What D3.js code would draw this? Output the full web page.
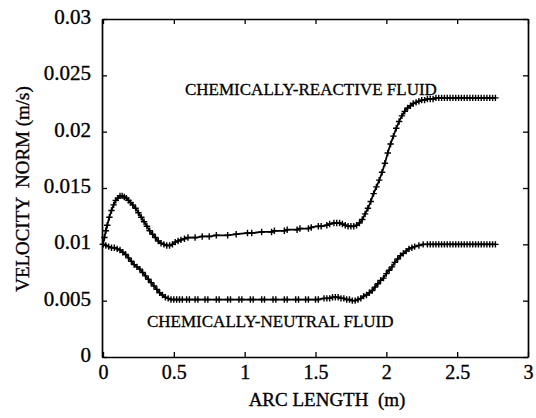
<!DOCTYPE html>
<html>
<head>
<meta charset="utf-8">
<script src="https://cdn.jsdelivr.net/npm/d3@7/dist/d3.min.js"></script>
<style>
  html, body { margin: 0; padding: 0; background: #fff; }
  svg { display: block; }
  text { font-family: "Liberation Serif", "Times New Roman", serif; fill: #000; white-space: pre; }
</style>
</head>
<body>
<svg id="chart" width="536" height="418"></svg>
<script>
// Arc length (m) and velocity norm (m/s) at the mesh nodes along the cut line
const reactiveX = [
  0.000, 0.010, 0.020, 0.030, 0.045, 0.060, 0.075, 0.090, 0.105, 0.120,
  0.135, 0.150, 0.165, 0.180, 0.195, 0.210, 0.230, 0.250, 0.270, 0.290,
  0.310, 0.330, 0.350, 0.370, 0.390, 0.410, 0.430, 0.450, 0.470, 0.490,
  0.510, 0.530, 0.550, 0.575, 0.600, 0.650, 0.700, 0.750, 0.800, 0.880,
  0.940, 1.020, 1.050, 1.120, 1.190, 1.210, 1.280, 1.300, 1.370, 1.390,
  1.450, 1.470, 1.520, 1.540, 1.580, 1.600, 1.630, 1.650, 1.670, 1.690,
  1.710, 1.730, 1.750, 1.770, 1.790, 1.810, 1.830, 1.850, 1.870, 1.890,
  1.910, 1.930, 1.950, 1.970, 1.990, 2.010, 2.030, 2.050, 2.070, 2.090,
  2.110, 2.130, 2.150, 2.170, 2.190, 2.210, 2.230, 2.250, 2.270, 2.290,
  2.310, 2.330, 2.350, 2.370, 2.390, 2.410, 2.430, 2.450, 2.470, 2.490,
  2.510, 2.530, 2.550, 2.570, 2.590, 2.610, 2.630, 2.650, 2.670, 2.690,
  2.710, 2.730, 2.750, 2.770
];
const reactiveV = [
  0.0100, 0.0106, 0.0112, 0.0117, 0.0124, 0.0130, 0.0135, 0.0139, 0.0141, 0.0143,
  0.0143, 0.0142, 0.0141, 0.0139, 0.0137, 0.0135, 0.0132, 0.0128, 0.0124, 0.0120,
  0.0116, 0.0112, 0.0109, 0.0106, 0.0103, 0.0101, 0.0100, 0.0099, 0.0099, 0.0100,
  0.0102, 0.0103, 0.0104, 0.0105, 0.0106, 0.0106, 0.0107, 0.0107, 0.0108, 0.0108,
  0.0109, 0.0110, 0.0110, 0.0111, 0.0111, 0.0112, 0.0112, 0.0113, 0.0113, 0.0114,
  0.0114, 0.0115, 0.0116, 0.0116, 0.0117, 0.0118, 0.0119, 0.0119, 0.0119, 0.0118,
  0.0117, 0.0116, 0.0116, 0.0116, 0.0117, 0.0119, 0.0122, 0.0127, 0.0132, 0.0138,
  0.0145, 0.0151, 0.0157, 0.0164, 0.0172, 0.0181, 0.0189, 0.0196, 0.0203, 0.0209,
  0.0214, 0.0218, 0.0221, 0.0223, 0.0225, 0.0226, 0.0227, 0.0228, 0.0228, 0.0229,
  0.0229, 0.0229, 0.0230, 0.0230, 0.0230, 0.0230, 0.0230, 0.0230, 0.0230, 0.0230,
  0.0230, 0.0230, 0.0230, 0.0230, 0.0230, 0.0230, 0.0230, 0.0230, 0.0230, 0.0230,
  0.0230, 0.0230, 0.0230, 0.0230
];

const neutralX = [
  0.000, 0.020, 0.040, 0.060, 0.080, 0.100, 0.120, 0.140, 0.160, 0.180,
  0.200, 0.220, 0.240, 0.260, 0.280, 0.300, 0.320, 0.340, 0.360, 0.380,
  0.400, 0.420, 0.440, 0.460, 0.480, 0.500, 0.520, 0.540, 0.560, 0.590,
  0.610, 0.650, 0.670, 0.720, 0.740, 0.800, 0.820, 0.880, 0.900, 0.960,
  0.980, 1.040, 1.060, 1.120, 1.140, 1.200, 1.220, 1.280, 1.300, 1.360,
  1.380, 1.430, 1.450, 1.500, 1.520, 1.560, 1.580, 1.600, 1.620, 1.640,
  1.660, 1.680, 1.700, 1.720, 1.740, 1.760, 1.780, 1.800, 1.820, 1.840,
  1.860, 1.880, 1.900, 1.920, 1.940, 1.960, 1.980, 2.000, 2.020, 2.040,
  2.060, 2.080, 2.100, 2.120, 2.140, 2.160, 2.180, 2.200, 2.230, 2.260,
  2.290, 2.310, 2.330, 2.350, 2.370, 2.390, 2.410, 2.430, 2.450, 2.470,
  2.490, 2.510, 2.530, 2.550, 2.570, 2.590, 2.610, 2.630, 2.650, 2.670,
  2.690, 2.710, 2.730, 2.750, 2.770
];
const neutralV = [
  0.0100, 0.0099, 0.0098, 0.0097, 0.0097, 0.0096, 0.0095, 0.0093, 0.0091, 0.0088,
  0.0085, 0.0082, 0.0080, 0.0078, 0.0075, 0.0072, 0.0069, 0.0066, 0.0063, 0.0060,
  0.0057, 0.0055, 0.0053, 0.0052, 0.0051, 0.0051, 0.0051, 0.0051, 0.0051, 0.0051,
  0.0051, 0.0051, 0.0051, 0.0051, 0.0051, 0.0051, 0.0051, 0.0051, 0.0051, 0.0051,
  0.0051, 0.0051, 0.0051, 0.0051, 0.0051, 0.0051, 0.0051, 0.0051, 0.0051, 0.0051,
  0.0051, 0.0051, 0.0051, 0.0051, 0.0051, 0.0052, 0.0052, 0.0052, 0.0053, 0.0053,
  0.0053, 0.0052, 0.0052, 0.0051, 0.0051, 0.0050, 0.0050, 0.0051, 0.0052, 0.0054,
  0.0055, 0.0057, 0.0059, 0.0062, 0.0065, 0.0068, 0.0070, 0.0074, 0.0077, 0.0080,
  0.0084, 0.0087, 0.0090, 0.0092, 0.0094, 0.0096, 0.0097, 0.0098, 0.0099, 0.0100,
  0.0100, 0.0100, 0.0100, 0.0100, 0.0100, 0.0100, 0.0100, 0.0100, 0.0100, 0.0100,
  0.0100, 0.0100, 0.0100, 0.0100, 0.0100, 0.0100, 0.0100, 0.0100, 0.0100, 0.0100,
  0.0100, 0.0100, 0.0100, 0.0100, 0.0100
];

const xTicks = [0, 0.5, 1, 1.5, 2, 2.5, 3];
const xTickLabels = ["0", "0.5", "1", "1.5", "2", "2.5", "3"];
const yTicks = [0, 0.005, 0.01, 0.015, 0.02, 0.025, 0.03];
const yTickLabels = ["0", "0.005", "0.01", "0.015", "0.02", "0.025", "0.03"];

const seriesLabels = ["CHEMICALLY-REACTIVE FLUID", "CHEMICALLY-NEUTRAL FLUID"];
const xTitle = "ARC LENGTH  (m)";
const yTitle = "VELOCITY  NORM (m/s)";

// ---- layout ----
const svg = d3.select("#chart");
const plot = { left: 102, right: 528, top: 19, bottom: 357 };

const x = d3.scaleLinear().domain([0, 3]).range([plot.left + 1, plot.right]);
const y = d3.scaleLinear().domain([0, 0.03]).range([plot.bottom, plot.top]);

// ---- axes (inward ticks on all four sides) ----
const tickLen = 5;
const axisBottom = d3.axisBottom(x).tickValues(xTicks)
  .tickFormat((d, i) => xTickLabels[i]).tickSizeInner(-tickLen).tickSizeOuter(0).tickPadding(8);
const axisTop = d3.axisTop(x).tickValues(xTicks).tickFormat("")
  .tickSizeInner(-tickLen).tickSizeOuter(0);
const axisLeft = d3.axisLeft(y).tickValues(yTicks)
  .tickFormat((d, i) => yTickLabels[i]).tickSizeInner(-tickLen).tickSizeOuter(0).tickPadding(11);
const axisRight = d3.axisRight(y).tickValues(yTicks).tickFormat("")
  .tickSizeInner(-tickLen).tickSizeOuter(0);

function styleAxis(g, size) {
  g.select(".domain").attr("stroke", "#000").attr("stroke-width", 1.7);
  g.selectAll(".tick line").attr("stroke", "#000").attr("stroke-width", 1.3);
  g.selectAll(".tick text")
    .attr("font-family", "Liberation Serif, Times New Roman, serif")
    .attr("font-size", size).attr("fill", "#000")
    .attr("stroke", "#000").attr("stroke-width", 0.35);
}

svg.append("g").attr("transform", `translate(0,${plot.bottom})`).call(axisBottom).call(styleAxis, 20);
svg.append("g").attr("transform", `translate(0,${plot.top})`).call(axisTop).call(styleAxis, 20);
svg.append("g").attr("transform", `translate(${plot.left},0)`).call(axisLeft).call(styleAxis, 21)
  .selectAll(".tick text").attr("dy", "0.22em");
svg.append("g").attr("transform", `translate(${plot.right},0)`).call(axisRight).call(styleAxis, 20);

// ---- curves with "+" node markers ----
const line = d3.line().x(d => x(d[0])).y(d => y(d[1])).curve(d3.curveMonotoneX);

function drawSeries(xs, vs) {
  const pts = xs.map((v, i) => [v, vs[i]]);
  svg.append("path").datum(pts)
    .attr("d", line).attr("fill", "none").attr("stroke", "#000").attr("stroke-width", 1.8);
  const s = 3.2;
  svg.append("g").selectAll("path").data(pts).join("path")
    .attr("d", d => {
      const px = x(d[0]), py = y(d[1]);
      return `M${px - s},${py}H${px + s}M${px},${py - s}V${py + s}`;
    })
    .attr("stroke", "#000").attr("stroke-width", 1.4).attr("fill", "none");
}
drawSeries(reactiveX, reactiveV);
drawSeries(neutralX, neutralV);

// ---- series labels ----
const labelStyle = sel => sel.attr("font-size", 17).attr("stroke", "#000").attr("stroke-width", 0.3);
svg.append("text").attr("x", 185).attr("y", 95).call(labelStyle).text(seriesLabels[0]);
svg.append("text").attr("x", 147).attr("y", 327).call(labelStyle).text(seriesLabels[1]);

// ---- axis titles ----
svg.append("text").attr("x", 327).attr("y", 406)
  .attr("text-anchor", "middle").attr("font-size", 19)
  .attr("stroke", "#000").attr("stroke-width", 0.35).text(xTitle);
svg.append("text")
  .attr("transform", `translate(29,189) rotate(-90)`)
  .attr("text-anchor", "middle").attr("font-size", 19)
  .attr("stroke", "#000").attr("stroke-width", 0.35).text(yTitle);
</script>
</body>
</html>
